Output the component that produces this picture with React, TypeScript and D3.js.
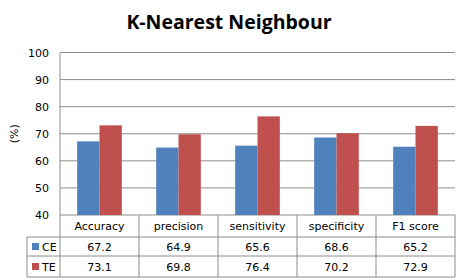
import React from 'react';
import * as d3 from 'd3';

const categories = ['Accuracy', 'precision', 'sensitivity', 'specificity', 'F1 score'];
const seriesNames = ['CE', 'TE'];
const ceValues = [67.2, 64.9, 65.6, 68.6, 65.2];
const teValues = [73.1, 69.8, 76.4, 70.2, 72.9];
const yTicks = [40, 50, 60, 70, 80, 90, 100];
const colors = ['#4F81BD', '#C0504D'];

const W = 460;
const H = 280;
const left = 60;
const right = 455;
const top = 52.5;
const bottom = 215;
const tableLeft = 27;
const rowLines = [237, 256, 277];
const grid = '#8c8c8c';
const font = 'DejaVu Sans, Verdana, sans-serif';

export default function App() {
  const values = [ceValues, teValues];
  const x = d3.scaleBand().domain(categories).range([left, right]);
  const inner = d3.scaleBand().domain(seriesNames).range([0, x.bandwidth()]).paddingOuter(0.77);
  const y = d3.scaleLinear().domain([40, 100]).range([bottom, top]);

  return (
    <svg width={W} height={H} style={{ position: 'absolute', left: 0, top: 0, background: '#fff' }}>
      <text x={229} y={29} textAnchor="middle" fontFamily="Open Sans, sans-serif" fontWeight="bold" fontSize={19.5} fill="#000">
        K-Nearest Neighbour
      </text>

      {yTicks.map(t => (
        <g key={t}>
          <line x1={left} x2={right} y1={y(t)} y2={y(t)} stroke={grid} strokeWidth={1} />
          <text x={49} y={y(t) + 4} textAnchor="end" fontFamily={font} fontSize={11} fill="#000">{t}</text>
        </g>
      ))}
      <text transform={`translate(18,${(top + bottom) / 2}) rotate(-90)`} textAnchor="middle" fontFamily={font} fontSize={11} fill="#000">(%)</text>

      {categories.map((c, i) => (
        <g key={c}>
          {seriesNames.map((s, j) => (
            <rect key={s}
              x={(x(c) as number) + (inner(s) as number)}
              y={y(values[j][i])}
              width={inner.bandwidth()}
              height={bottom - y(values[j][i])}
              fill={colors[j]} />
          ))}
        </g>
      ))}

      {/* data table */}
      <line x1={left} x2={left} y1={top} y2={rowLines[2]} stroke={grid} />
      {x.domain().map(c => (
        <line key={c} x1={(x(c) as number) + x.bandwidth()} x2={(x(c) as number) + x.bandwidth()} y1={bottom} y2={rowLines[2]} stroke={grid} />
      ))}
      <line x1={tableLeft} x2={tableLeft} y1={rowLines[0]} y2={rowLines[2]} stroke={grid} />
      {rowLines.map(r => (
        <line key={r} x1={tableLeft} x2={right} y1={r} y2={r} stroke={grid} />
      ))}
      {categories.map((c, i) => (
        <g key={c} fontFamily={font} fontSize={11} fill="#000" textAnchor="middle">
          <text x={(x(c) as number) + x.bandwidth() / 2} y={(bottom + rowLines[0]) / 2 + 4}>{c}</text>
          <text x={(x(c) as number) + x.bandwidth() / 2} y={(rowLines[0] + rowLines[1]) / 2 + 4}>{ceValues[i]}</text>
          <text x={(x(c) as number) + x.bandwidth() / 2} y={(rowLines[1] + rowLines[2]) / 2 + 4}>{teValues[i]}</text>
        </g>
      ))}
      {seriesNames.map((s, j) => {
        const r0 = rowLines[j];
        const r1 = rowLines[j + 1];
        return (
          <g key={s}>
            <rect x={32} y={(r0 + r1) / 2 - 3.5} width={7} height={7} fill={colors[j]} />
            <text x={42} y={(r0 + r1) / 2 + 4} fontFamily={font} fontSize={11} fill="#000">{s}</text>
          </g>
        );
      })}
    </svg>
  );
}
